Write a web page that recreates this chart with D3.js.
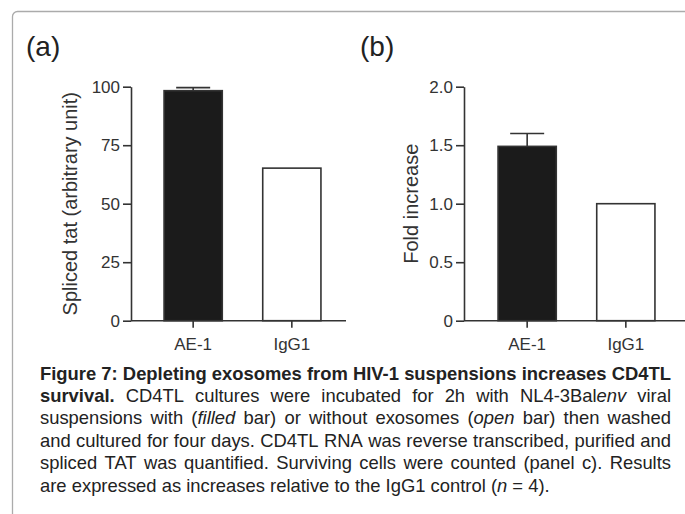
<!DOCTYPE html>
<html><head><meta charset="utf-8">
<script src="https://cdn.jsdelivr.net/npm/d3@7"></script>
<style>body{margin:0;background:#fff} svg{display:block}</style>
</head><body>
<svg id="c" width="685" height="514"></svg>
<script>
// ---- data ----
const categories = ["AE-1", "IgG1"];
const splicedTat = [98.3, 65.2];
const splicedTatErr = [1.3, 0];
const foldIncrease = [1.49, 1.0];
const foldIncreaseErr = [0.11, 0];
const ticksA = [0, 25, 50, 75, 100];
const ticksB = [0, 0.5, 1.0, 1.5, 2.0];
const panelLabels = ["(a)", "(b)"];
const yTitles = ["Spliced tat (arbitrary unit)", "Fold increase"];
const barFills = ["#1b1b1b", "#ffffff"];
// caption: **bold**, *italic*
const captionLines = [
  "**Figure 7: Depleting exosomes from HIV-1 suspensions increases CD4TL**",
  "**survival.** CD4TL cultures were incubated for 2h with NL4-3Bal*env* viral",
  "suspensions with (*filled* bar) or without exosomes (*open* bar) then washed",
  "and cultured for four days. CD4TL RNA was reverse transcribed, purified and",
  "spliced TAT was quantified. Surviving cells were counted (panel c). Results",
  "are expressed as increases relative to the IgG1 control (*n* = 4)."
];

const FONT = "'Liberation Sans', Arial, Helvetica, sans-serif";
const svg = d3.select("#c");

// frame
svg.append("path")
  .attr("d", "M12.5,520 L12.5,16.5 A5,5 0 0 1 17.5,11.5 L690,11.5")
  .attr("fill", "none").attr("stroke", "#ababab").attr("stroke-width", 1.3);

const yTop = 86.7, yBot = 320.7;
const panels = [
  {x0: 131, axisEnd: 346, yMax: 100, values: splicedTat, errs: splicedTatErr, ticks: ticksA,
   fmt: d => String(d), label: panelLabels[0], labelX: 26, title: yTitles[0], titleX: 76.5, shift: 0.5},
  {x0: 464, axisEnd: 690, yMax: 2, values: foldIncrease, errs: foldIncreaseErr, ticks: ticksB,
   fmt: d => d === 0 ? "0" : d.toFixed(1), label: panelLabels[1], labelX: 360, title: yTitles[1], titleX: 418, shift: 1.5}
];

panels.forEach(p => {
  const g = svg.append("g");
  const y = d3.scaleLinear().domain([0, p.yMax]).range([yBot, yTop]);
  const x = d3.scaleBand().domain(categories)
    .range([p.x0 + p.shift, p.x0 + p.shift + 222]).paddingInner(0.41).paddingOuter(0.33);

  // bars
  g.selectAll("rect.bar").data(categories).join("rect")
    .attr("x", d => x(d)).attr("width", x.bandwidth())
    .attr("y", (d, i) => y(p.values[i])).attr("height", (d, i) => yBot - y(p.values[i]))
    .attr("fill", (d, i) => barFills[i]).attr("stroke", "#333").attr("stroke-width", 1.6);

  // error bars (upper only)
  const eb = categories.map((c, i) => ({c, v: p.values[i], e: p.errs[i]})).filter(d => d.e > 0);
  g.selectAll("line.err").data(eb).join("line")
    .attr("x1", d => x(d.c) + x.bandwidth() / 2).attr("x2", d => x(d.c) + x.bandwidth() / 2)
    .attr("y1", d => y(d.v)).attr("y2", d => y(d.v + d.e))
    .attr("stroke", "#333").attr("stroke-width", 1.6);
  g.selectAll("line.cap").data(eb).join("line")
    .attr("x1", d => x(d.c) + x.bandwidth() / 2 - 17).attr("x2", d => x(d.c) + x.bandwidth() / 2 + 17)
    .attr("y1", d => y(d.v + d.e)).attr("y2", d => y(d.v + d.e))
    .attr("stroke", "#333").attr("stroke-width", 1.6);

  // y axis
  const ya = g.append("g").attr("transform", `translate(${p.x0},0)`)
    .call(d3.axisLeft(y).tickValues(p.ticks).tickFormat(p.fmt).tickSize(8).tickSizeOuter(0).tickPadding(3));
  // x axis
  const xa = g.append("g").attr("transform", `translate(0,${yBot})`)
    .call(d3.axisBottom(x).tickSize(7).tickPadding(10));
  xa.select(".domain").remove();
  g.append("line").attr("x1", p.x0).attr("x2", p.axisEnd).attr("y1", yBot).attr("y2", yBot)
    .attr("stroke", "#333").attr("stroke-width", 1.6);

  [ya, xa].forEach(a => {
    a.selectAll("path,line").attr("stroke", "#333").attr("stroke-width", 1.6);
    a.selectAll("text").attr("fill", "#333").style("font-family", FONT).style("font-size", "17px");
  });

  // y title
  g.append("text")
    .attr("transform", `translate(${p.titleX},${(yTop + yBot) / 2}) rotate(-90)`)
    .attr("text-anchor", "middle").attr("fill", "#333")
    .style("font-family", FONT).style("font-size", "20px").text(p.title);

  // panel label
  g.append("text").attr("x", p.labelX).attr("y", 56).attr("fill", "#222")
    .style("font-family", FONT).style("font-size", "28px").text(p.label);
});

// caption (justified)
const capX0 = 40, capX1 = 671, capY0 = 379.5, capDy = 22.4;
const cap = svg.append("g").style("font-family", FONT).style("font-size", "18.4px").attr("fill", "#222");

function parseWords(line) {
  const pieces = [];
  const re = /(\*\*[^*]+\*\*|\*[^*]+\*|[^*]+)/g;
  let m;
  while ((m = re.exec(line)) !== null) {
    const s = m[0];
    if (s.startsWith("**")) pieces.push({t: s.slice(2, -2), b: true, i: false});
    else if (s.startsWith("*")) pieces.push({t: s.slice(1, -1), b: false, i: true});
    else pieces.push({t: s, b: false, i: false});
  }
  const words = [[]];
  pieces.forEach(pc => {
    const parts = pc.t.split(" ");
    parts.forEach((pt, k) => {
      if (k > 0) words.push([]);
      if (pt.length) words[words.length - 1].push({t: pt, b: pc.b, i: pc.i});
    });
  });
  return words.filter(w => w.length);
}

const spaceProbe = cap.append("text").text("a a");
const spaceW = spaceProbe.node().getComputedTextLength();
const aProbe = cap.append("text").text("aa");
const sw = spaceW - aProbe.node().getComputedTextLength();
spaceProbe.remove(); aProbe.remove();

captionLines.forEach((line, li) => {
  const words = parseWords(line);
  const y = capY0 + li * capDy;
  const els = words.map(w => {
    const t = cap.append("text").attr("y", y);
    w.forEach(pc => {
      t.append("tspan").text(pc.t)
        .style("font-weight", pc.b ? "bold" : "normal")
        .style("font-style", pc.i ? "italic" : "normal");
    });
    return t;
  });
  const widths = els.map(e => e.node().getComputedTextLength());
  const total = d3.sum(widths);
  const last = li === captionLines.length - 1;
  const gap = last ? sw : (capX1 - capX0 - total) / (words.length - 1);
  let xx = capX0;
  els.forEach((e, k) => { e.attr("x", xx); xx += widths[k] + gap; });
});
</script>
</body></html>
